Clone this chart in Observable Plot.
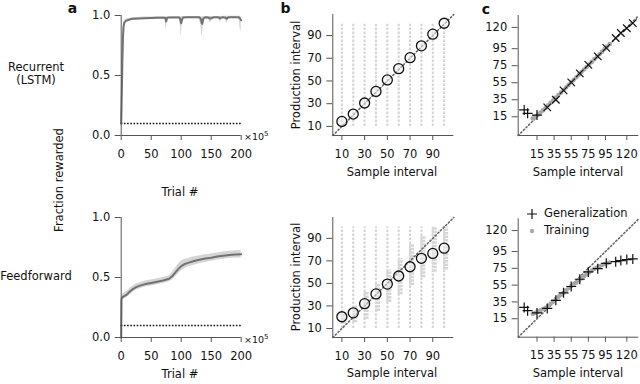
<!DOCTYPE html>
<html><head><meta charset="utf-8">
<script src="https://cdn.jsdelivr.net/npm/d3@7"></script>
<script src="https://cdn.jsdelivr.net/npm/@observablehq/plot@0.6"></script>
<style>
body{margin:0;background:#fff;}
#fig{position:relative;width:640px;height:384px;overflow:hidden;font-family:"DejaVu Sans",sans-serif;color:#111;background:#fff;}
.box{position:absolute;}
.lbl{position:absolute;white-space:nowrap;font-size:11.5px;line-height:1;transform:translate(-50%,-50%);}
.rot{transform:translate(-50%,-50%) rotate(-90deg);}
.pl{font-weight:bold;font-size:14px;}
.leg{position:absolute;white-space:nowrap;font-size:11.5px;line-height:1;transform:translate(0,-50%);}
</style></head><body><div id="fig"></div>
<script>
// ---------- Panel a data ----------
const aTicksX = [0, 50, 100, 150, 200];
const aTicksY = [0, 0.5, 1.0];
const aChance = 0.1;
const aTopTrial = [0,1,2,3,4,5,6,8,10,15,20,30,40,50,60,70,73,74,75,76,77,80,90,97,99,100,101,103,110,120,130,133,134,135,136,137,140,145,147,148,150,152,155,160,163,165,167,170,174,176,178,180,190,196,198,200];
const aTopMean  = [0.10,0.35,0.62,0.82,0.91,0.935,0.945,0.955,0.96,0.968,0.972,0.976,0.978,0.98,0.981,0.982,0.982,0.97,0.95,0.97,0.982,0.983,0.984,0.984,0.96,0.935,0.96,0.983,0.985,0.985,0.985,0.97,0.94,0.93,0.95,0.975,0.985,0.984,0.978,0.975,0.977,0.982,0.985,0.985,0.983,0.975,0.983,0.986,0.982,0.972,0.983,0.986,0.986,0.985,0.975,0.96];
const aTopLo    = [0.08,0.30,0.56,0.77,0.88,0.915,0.93,0.94,0.948,0.957,0.962,0.966,0.968,0.97,0.972,0.973,0.973,0.92,0.875,0.92,0.972,0.974,0.975,0.975,0.90,0.81,0.90,0.974,0.976,0.976,0.976,0.92,0.84,0.83,0.87,0.95,0.976,0.97,0.95,0.94,0.945,0.965,0.976,0.976,0.97,0.94,0.97,0.977,0.965,0.93,0.97,0.977,0.977,0.975,0.90,0.86];
const aTopHi    = [0.12,0.40,0.68,0.87,0.94,0.955,0.96,0.968,0.972,0.978,0.981,0.985,0.987,0.988,0.989,0.99,0.99,0.99,0.99,0.99,0.99,0.99,0.991,0.991,0.99,0.99,0.99,0.991,0.992,0.992,0.992,0.99,0.99,0.99,0.99,0.99,0.992,0.992,0.992,0.992,0.992,0.992,0.992,0.992,0.992,0.992,0.992,0.993,0.993,0.993,0.993,0.993,0.993,0.993,0.993,0.993];
const aBotTrial = [0,0.5,2,5,10,15,20,25,30,40,50,60,70,80,85,90,95,100,105,110,120,130,140,150,160,170,180,190,200];
const aBotMean  = [0.00,0.32,0.335,0.345,0.36,0.385,0.405,0.42,0.43,0.445,0.455,0.465,0.475,0.49,0.51,0.54,0.57,0.595,0.61,0.62,0.635,0.648,0.658,0.665,0.675,0.682,0.688,0.692,0.693];
const aBotLo    = [0.00,0.30,0.31,0.32,0.335,0.36,0.38,0.395,0.405,0.42,0.43,0.44,0.45,0.465,0.48,0.505,0.53,0.555,0.57,0.585,0.60,0.615,0.625,0.635,0.645,0.652,0.658,0.662,0.663];
const aBotHi    = [0.00,0.34,0.36,0.37,0.385,0.41,0.43,0.445,0.455,0.47,0.48,0.49,0.50,0.515,0.54,0.575,0.61,0.635,0.65,0.655,0.67,0.68,0.69,0.695,0.705,0.712,0.718,0.722,0.723];

// ---------- Panel b data ----------
const bDomain = [2, 108.5];
const bTicks = [10, 30, 50, 70, 90];
const bSamples = [10, 20, 30, 40, 50, 60, 70, 80, 90, 100];
const bColumnExtent = [10, 100];
const bTopMean = [14.4, 20.9, 30.6, 40.8, 50.9, 60.8, 70.5, 80.9, 91.2, 100.8];
const bBotMean = [20.4, 23.9, 32.0, 40.7, 49.4, 56.6, 64.8, 72.3, 76.6, 81.3];
const bBotSpreadLo = [14, 15, 18, 25, 33, 40, 48, 55, 60, 62];
const bBotSpreadHi = [24, 30, 42, 50, 62, 72, 85, 92, 100, 100];

// ---------- Panel c data ----------
const cDomain = [-7, 134];
const cTicks = [15, 35, 55, 75, 95, 120];
const cGenSample = [0, 4, 15, 27, 37, 46, 55, 65, 75, 86, 96, 107, 113, 120, 127];
const cTopGen = [23, 19, 17, 26, 35, 46, 55.5, 66, 76, 86, 96, 107.6, 113.4, 119, 125];
const cTopGenMarker = ["plus","plus","plus","times","times","times","times","times","times","times","times","times","times","times","times"];
const cBotGen = [28.5, 24.6, 21.9, 27.3, 36.9, 45.8, 53.4, 62, 70.7, 74.6, 81, 83, 84.2, 85.4, 86.2];
const cTrainSample = [10,13,16,19,22,25,28,31,34,37,40,43,46,49,52,55,58,61,64,67,70,73,76,79,82,85,88,91,94,97,100];
const cTopTrain = [13,15,17.5,20,22.5,25.5,28.5,31.5,34.5,37.5,40.5,43.5,46.5,49.5,52.5,55.5,58.5,61.5,64.5,67.5,70.5,73.5,76.5,79.5,82.5,85.5,88.5,91.5,94.5,97.5,100.5];
const cBotTrain = [21,22,23.5,25,26.5,28,30.5,33,35.5,38.5,41,43.5,46,49,51.5,54,56,58,60.5,63,65.5,68,70,72.5,74.5,76,77.5,79,80,81,82];

// ---------- helpers ----------
const fig = document.getElementById("fig");
const zip = (keys, ...arrs) => arrs[0].map((_, i) => Object.fromEntries(keys.map((k, j) => [k, arrs[j][i]])));
const style = {fontFamily: "DejaVu Sans", fontSize: "11.5px", background: "transparent", overflow: "visible", color: "#111"};
function place(el, left, top) {
  const d = document.createElement("div");
  d.className = "box"; d.style.left = left + "px"; d.style.top = top + "px";
  d.appendChild(el); fig.appendChild(d);
}
function label(html, x, y, cls = "") {
  const d = document.createElement("div");
  d.className = "lbl " + cls; d.style.left = x + "px"; d.style.top = y + "px";
  d.innerHTML = html; fig.appendChild(d);
}
const spineColor = "#555";
const axX = (ticks, fmt) => Plot.axisX({ticks, tickSize: 5, tickPadding: 9, stroke: spineColor, label: null, tickFormat: fmt});
const axY = (ticks, fmt) => Plot.axisY({ticks, tickSize: 6, tickPadding: 5, stroke: spineColor, label: null, tickFormat: fmt});
const plusSym = {draw(c, s) { const h = Math.sqrt(s / Math.PI); c.moveTo(-h, 0); c.lineTo(h, 0); c.moveTo(0, -h); c.lineTo(0, h); }};
const timesSym = {draw(c, s) { const h = Math.sqrt(s / Math.PI) * 0.75; c.moveTo(-h, -h); c.lineTo(h, h); c.moveTo(-h, h); c.lineTo(h, -h); }};
const diagStyle = {stroke: "#666", strokeWidth: 1.6, strokeDasharray: "1.3,2.4"};

// ---------- panel a ----------
function panelA(trial, mean, lo, hi, mt, mb, h) {
  const rows = zip(["t", "m", "lo", "hi"], trial, mean, lo, hi);
  return Plot.plot({
    width: 216, height: h, marginLeft: 56.7, marginRight: 39.3, marginTop: mt, marginBottom: mb, style,
    x: {domain: [aTicksX[0], aTicksX[aTicksX.length - 1]]},
    y: {domain: [aTicksY[0], aTicksY[aTicksY.length - 1]]},
    marks: [
      Plot.areaY(rows, {x: "t", y1: "lo", y2: "hi", fill: "#d4d4d4"}),
      Plot.line(rows, {x: "t", y: "m", stroke: "#727272", strokeWidth: 2}),
      Plot.ruleY([aChance], {x1: aTicksX[0], x2: aTicksX[aTicksX.length - 1], stroke: "#111", strokeWidth: 1.6, strokeDasharray: "1.6,1.6"}),
      Plot.ruleX([aTicksX[0]], {stroke: spineColor}),
      Plot.ruleY([aTicksY[0]], {stroke: spineColor}),
      axX(aTicksX), axY(aTicksY, d3.format(".1f"))
    ]
  });
}
place(panelA(aTopTrial, aTopMean, aTopLo, aTopHi, 15, 65, 200), 64, 0);
place(panelA(aBotTrial, aBotMean, aBotLo, aBotHi, 17, 47, 184), 64, 200);

// ---------- panel b ----------
function panelB(mean, spreadLo, spreadHi, mt, mb, h) {
  const pts = zip(["s", "m"], bSamples, mean);
  const marks = [
    Plot.ruleX(bSamples, {x: d => d, y1: bColumnExtent[0], y2: bColumnExtent[1], stroke: "#d4d4d4", strokeWidth: 2, strokeDasharray: "2.5,1.5"})
  ];
  if (spreadLo) {
    const sp = zip(["s", "lo", "hi"], bSamples, spreadLo, spreadHi);
    marks.push(Plot.ruleX(sp, {x: "s", y1: "lo", y2: "hi", dx: 1.5, stroke: "#d6d6d6", strokeWidth: 5, strokeDasharray: "2.5,1"}));
  }
  marks.push(
    Plot.line(bDomain, {x: d => d, y: d => d, ...diagStyle}),
    Plot.dot(pts, {x: "s", y: "m", r: 5, stroke: "#111", strokeWidth: 1.3, fill: "#eeeeee", fillOpacity: 0.55}),
    Plot.ruleX([bDomain[0]], {stroke: spineColor}),
    Plot.ruleY([bDomain[0]], {stroke: spineColor}),
    axX(bTicks), axY(bTicks)
  );
  return Plot.plot({
    width: 180, height: h, marginLeft: 52.3, marginRight: 6.7, marginTop: mt, marginBottom: mb, style,
    x: {domain: bDomain}, y: {domain: bDomain}, marks
  });
}
place(panelB(bTopMean, null, null, 14, 65, 200), 280, 0);
place(panelB(bBotMean, bBotSpreadLo, bBotSpreadHi, 17, 47, 184), 280, 200);

// ---------- panel c ----------
function panelC(gen, genMarker, train, mt, mb, h) {
  const g = zip(["s", "v", "m"], cGenSample, gen, genMarker);
  const tr = zip(["s", "v"], cTrainSample, train);
  return Plot.plot({
    width: 170, height: h, marginLeft: 47.7, marginRight: 1.7, marginTop: mt, marginBottom: mb, style,
    x: {domain: cDomain}, y: {domain: cDomain},
    marks: [
      Plot.line(cDomain, {x: d => d, y: d => d, ...diagStyle}),
      Plot.dot(tr, {x: "s", y: "v", r: 2.3, fill: "#a8a8a8", stroke: "none"}),
      Plot.dot(g.filter(d => d.m === "plus"), {x: "s", y: "v", r: 5, symbol: plusSym, fill: "none", stroke: "#111", strokeWidth: 1.2}),
      Plot.dot(g.filter(d => d.m === "times"), {x: "s", y: "v", r: 5, symbol: timesSym, fill: "none", stroke: "#111", strokeWidth: 1.2}),
      Plot.ruleX([cDomain[0]], {stroke: spineColor}),
      Plot.ruleY([cDomain[0]], {stroke: spineColor}),
      axX(cTicks), axY(cTicks)
    ]
  });
}
place(panelC(cTopGen, cTopGenMarker, cTopTrain, 15, 65, 200), 470, 0);
place(panelC(cBotGen, cBotGen.map(() => "plus"), cBotTrain, 18.3, 47.3, 184), 470, 200);

// ---------- text ----------
label("a", 72.5, 8, "pl");
label("b", 285.5, 8, "pl");
label("c", 486, 9, "pl");
label("Recurrent", 36, 67.7);
label("(LSTM)", 36, 81);
label("Feedforward", 36, 277.3);
label("Fraction rewarded", 60, 180, "rot");
label("Production interval", 297, 75, "rot");
label("Production interval", 297, 277, "rot");
label("Trial #", 180, 192.5);
label("Trial #", 180, 375);
label("Sample interval", 392, 173);
label("Sample interval", 392, 374);
label("Sample interval", 578, 173);
label("Sample interval", 578, 374);
const x10 = '<span style="font-size:9.5px">×10<span style="font-size:7px;vertical-align:4px">5</span></span>';
const d1 = document.createElement("div"); d1.className = "leg"; d1.style.left = "244px"; d1.style.top = "137px"; d1.innerHTML = x10; fig.appendChild(d1);
const d2 = document.createElement("div"); d2.className = "leg"; d2.style.left = "244px"; d2.style.top = "340px"; d2.innerHTML = x10; fig.appendChild(d2);
// legend
const lg1 = document.createElement("div"); lg1.className = "leg"; lg1.style.left = "526px"; lg1.style.top = "213.5px";
lg1.innerHTML = '<svg width="12" height="12" style="vertical-align:middle;margin-right:6px"><path d="M1 6H11M6 1V11" stroke="#111" stroke-width="1.2"/></svg><span style="vertical-align:middle">Generalization</span>';
fig.appendChild(lg1);
const lg2 = document.createElement("div"); lg2.className = "leg"; lg2.style.left = "526px"; lg2.style.top = "231px";
lg2.innerHTML = '<svg width="12" height="12" style="vertical-align:middle;margin-right:6px"><circle cx="6" cy="6" r="2.2" fill="#aaa"/></svg><span style="vertical-align:middle">Training</span>';
fig.appendChild(lg2);
</script></body></html>
